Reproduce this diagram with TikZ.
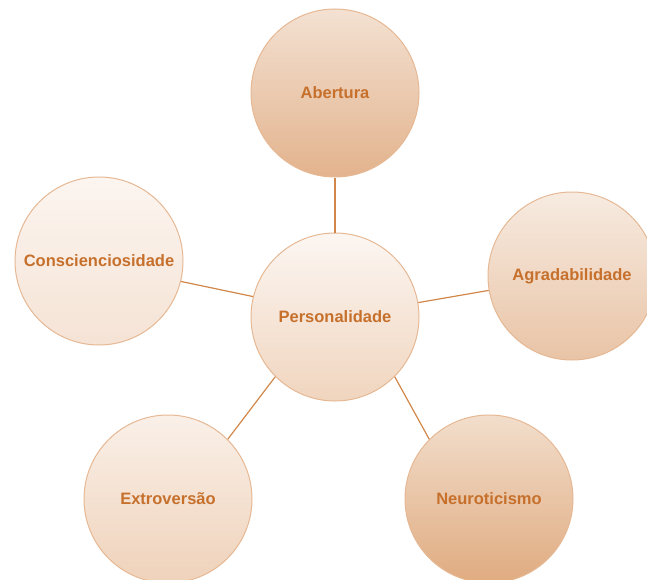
\documentclass[tikz,border=0pt]{standalone}
\usepackage{fontspec}
\setmainfont{Liberation Sans}
\definecolor{edgeC}{HTML}{E6B894}
\definecolor{txtC}{HTML}{C6702C}
\definecolor{lineC}{HTML}{D2874A}
\definecolor{aT}{HTML}{F3E1D2}\definecolor{aB}{HTML}{E3B38D}
\definecolor{cT}{HTML}{FCF5F0}\definecolor{cB}{HTML}{F5E3D5}
\definecolor{gT}{HTML}{F7EBE1}\definecolor{gB}{HTML}{E9C4A6}
\definecolor{pT}{HTML}{FCF6F2}\definecolor{pB}{HTML}{F0D5BE}
\definecolor{eT}{HTML}{FAF0E8}\definecolor{eB}{HTML}{EFD2BA}
\definecolor{nT}{HTML}{F2DECC}\definecolor{nB}{HTML}{E0AB80}
\begin{document}
\begin{tikzpicture}[x=1pt,y=-1pt,
  bub/.style={circle, minimum size=168pt, inner sep=0pt, draw=edgeC, line width=1pt,
    font=\bfseries\fontsize{16.5}{19}\selectfont, text=txtC},
  link/.style={draw=lineC, line width=1.2pt}]
\useasboundingbox (0,0) rectangle (647,580);
\node[bub, top color=aT, bottom color=aB] (a) at (335,93) {Abertura};
\node[bub, top color=cT, bottom color=cB] (c) at (99,261) {Conscienciosidade};
\node[bub, top color=gT, bottom color=gB] (g) at (572,276) {Agradabilidade};
\node[bub, top color=pT, bottom color=pB] (p) at (335,317) {Personalidade};
\node[bub, top color=eT, bottom color=eB] (e) at (168,499) {Extroversão};
\node[bub, top color=nT, bottom color=nB] (n) at (489,499) {Neuroticismo};
\draw[link] (p) -- (a);
\draw[link] (p.166) -- (c.-14);
\draw[link] (p) -- (g);
\draw[link] (p.-135) -- (e.45);
\draw[link] (p.-45) -- (n.135);
\end{tikzpicture}
\end{document}
